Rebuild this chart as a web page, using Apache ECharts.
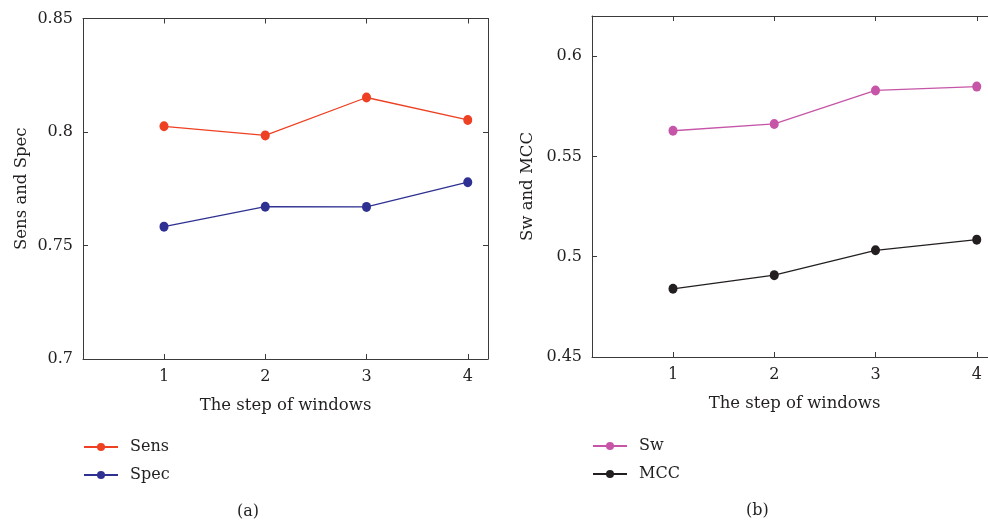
<!DOCTYPE html>
<html><head><meta charset="utf-8">
<script src="https://cdn.jsdelivr.net/npm/echarts@6/dist/echarts.min.js"></script>
<style>html,body{margin:0;padding:0;background:#fff}#c{width:988px;height:524px}</style>
</head><body><div id="c"></div>
<script>
const steps = [1, 2, 3, 4];
const sens = [0.8025, 0.7985, 0.8152, 0.8053];
const spec = [0.7583, 0.7671, 0.7670, 0.7779];
const sw = [0.5628, 0.5662, 0.5829, 0.5848];
const mcc = [0.4840, 0.4908, 0.5032, 0.5085];
const yTicksA = [0.7, 0.75, 0.8, 0.85];
const yTicksB = [0.45, 0.5, 0.55, 0.6];
const xTitle = 'The step of windows';
const yTitleA = 'Sens and Spec';
const yTitleB = 'Sw and MCC';

const FONT = '"DejaVu Serif", "Liberation Serif", serif';
const FS = 16;
const TXT = '#231f20';
const AX = '#3a3a3a';
const pairs = a => steps.map((s, i) => [s, a[i]]);

function xAxes(gi) {
  return [{
    type: 'value', gridIndex: gi, position: 'bottom', min: 0.2, max: 4.2,
    name: xTitle, nameLocation: 'middle', nameGap: 38,
    nameTextStyle: {fontFamily: FONT, fontSize: 16.5, color: TXT},
    axisLine: {show: true, onZero: false, lineStyle: {color: AX, width: 1}},
    axisTick: {show: true, inside: true, length: 5, customValues: steps, lineStyle: {color: AX}},
    axisLabel: {customValues: steps, margin: 10, fontFamily: FONT, fontSize: FS, color: TXT},
    splitLine: {show: false}
  }, {
    type: 'value', gridIndex: gi, position: 'top', min: 0.2, max: 4.2,
    axisLine: {show: true, onZero: false, lineStyle: {color: AX, width: 1}},
    axisTick: {show: true, inside: true, length: 5, customValues: steps, lineStyle: {color: AX}},
    axisLabel: {show: false}, splitLine: {show: false}
  }];
}
function yAxes(gi, min, max, ticks, title, gap) {
  return [{
    type: 'value', gridIndex: gi, position: 'left', min: min, max: max,
    name: title, nameLocation: 'middle', nameGap: gap, nameRotate: 90,
    nameTextStyle: {fontFamily: FONT, fontSize: 16.5, color: TXT},
    axisLine: {show: true, onZero: false, lineStyle: {color: AX, width: 1}},
    axisTick: {show: true, inside: true, length: 5, customValues: ticks, lineStyle: {color: AX}},
    axisLabel: {customValues: ticks, margin: 10, fontFamily: FONT, fontSize: FS, color: TXT},
    splitLine: {show: false}
  }, {
    type: 'value', gridIndex: gi, position: 'right', min: min, max: max,
    axisLine: {show: true, onZero: false, lineStyle: {color: AX, width: 1}},
    axisTick: {show: true, inside: true, length: 5, customValues: ticks, lineStyle: {color: AX}},
    axisLabel: {show: false}, splitLine: {show: false}
  }];
}
function line(name, data, color, xi, yi) {
  return {
    name: name, type: 'line', xAxisIndex: xi, yAxisIndex: yi, data: pairs(data),
    symbol: 'circle', symbolSize: [9, 10], color: color,
    itemStyle: {color: color}, lineStyle: {color: color, width: 1.3}, animation: false
  };
}

const chart = echarts.init(document.getElementById('c'), null, {renderer: 'canvas'});
chart.setOption({
  backgroundColor: '#fff',
  animation: false,
  grid: [
    {left: 83, top: 18.5, width: 405, height: 340.5, outerBoundsMode: 'none', containLabel: false},
    {left: 592, top: 16, width: 405, height: 341, outerBoundsMode: 'none', containLabel: false}
  ],
  xAxis: [...xAxes(0), ...xAxes(1)],
  yAxis: [...yAxes(0, 0.7, 0.85, yTicksA, yTitleA, 53), ...yAxes(1, 0.45, 0.62, yTicksB, yTitleB, 56)],
  legend: [
    {data: ['Sens', 'Spec'], orient: 'vertical', left: 83, top: 439, padding: 0, itemWidth: 34, itemHeight: 10, itemGap: 12,
     textStyle: {fontFamily: FONT, fontSize: FS, color: TXT, padding: [0, 0, 0, 7]}},
    {data: ['Sw', 'MCC'], orient: 'vertical', left: 592, top: 438, padding: 0, itemWidth: 34, itemHeight: 10, itemGap: 12,
     textStyle: {fontFamily: FONT, fontSize: FS, color: TXT, padding: [0, 0, 0, 7]}}
  ],
  graphic: [
    {type: 'text', left: 237, top: 504, style: {text: '(a)', font: FS + 'px ' + FONT, fill: TXT}},
    {type: 'text', left: 746, top: 503, style: {text: '(b)', font: FS + 'px ' + FONT, fill: TXT}}
  ],
  series: [
    line('Sens', sens, '#ee4023', 0, 0),
    line('Spec', spec, '#2e3192', 0, 0),
    line('Sw', sw, '#c655a7', 2, 2),
    line('MCC', mcc, '#231f20', 2, 2)
  ]
});
</script></body></html>
